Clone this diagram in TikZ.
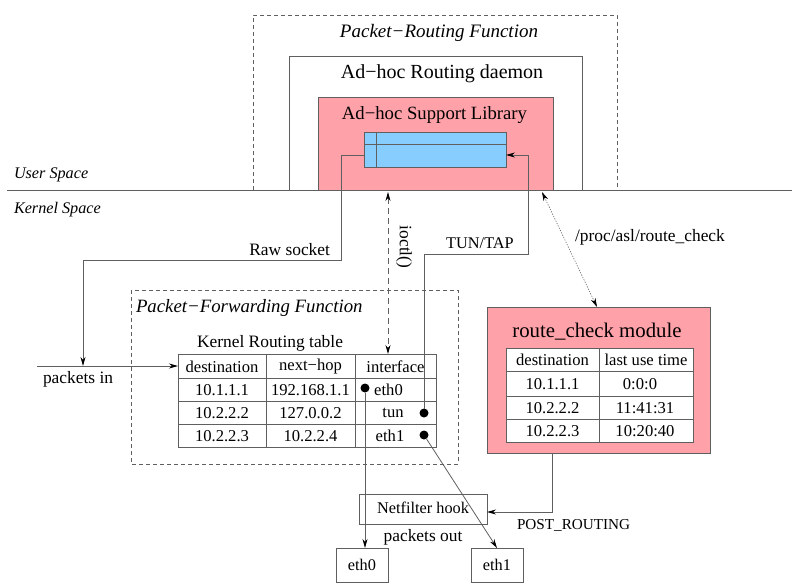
\documentclass[tikz,border=0pt]{standalone}
\usepackage{fontspec}
\setmainfont{Liberation Serif}
\usetikzlibrary{arrows.meta}
\definecolor{linegray}{RGB}{95,95,95}
\definecolor{aslpink}{RGB}{255,161,168}
\definecolor{aslblue}{RGB}{135,206,255}
\newcommand\setfs[1]{\fontsize{#1}{#1}\selectfont}

\begin{document}
\begin{tikzpicture}[x=1pt,y=-1pt,
  every node/.style={inner sep=0pt, outer sep=0pt},
  wire/.style={draw=linegray, line width=0.8pt},
  arr/.style={-{Stealth[length=9pt,width=5pt,black]}},
  twoway/.style={{Stealth[length=9pt,width=5pt,black]}-{Stealth[length=9pt,width=5pt,black]}},
  frame/.style={draw=linegray, line width=0.8pt, dash pattern=on 4pt off 3pt},
  box/.style={draw=linegray, line width=0.8pt, anchor=north west},
  dot/.style={circle, fill=black, minimum size=9pt},
  big/.style={font=\setfs{19.5}},
  label/.style={font=\setfs{17.4}},
  small/.style={font=\setfs{16.3}},
  cell/.style={font=\setfs{16.6}},
  space/.style={font=\setfs{16.2}\itshape, anchor=west},
]
\useasboundingbox (0,0) rectangle (792,583);

% ---------------- user space ----------------
\draw[frame] (253,190) -- (253,15) -- (617,15) -- (617,190);
\node[big, font=\setfs{19}\itshape] (prf) at (439,33) {Packet−Routing Function};

\draw[wire] (289,190) -- (289,56) -- (582,56) -- (582,190);
\node[big, font=\setfs{20}] (ard) at (442,73.5) {Ad−hoc Routing daemon};

\fill[aslpink] (318,97) rectangle (553,190);
\draw[wire] (318,190) -- (318,97) -- (553,97) -- (553,190);
\node[big, font=\setfs{18.7}] (asl) at (434.5,115.5) {Ad−hoc Support Library};

\node[box, fill=aslblue, minimum width=142pt, minimum height=35pt] (blue) at (364,132) {};
\draw[wire] (376,132) -- (376,167);
\draw[wire] (364,144) -- (506,144);

% user / kernel boundary
\coordinate (sepL) at (7,190);
\coordinate (sepR) at (792,190);
\draw[wire] (sepL) -- (sepR);
\node[space] (us) at (14,174.5) {User Space};
\node[space] (ks) at (14,209.5) {Kernel Space};

% ---------------- packet forwarding ----------------
\draw[frame] (131,290) rectangle (458,464);
\node[font=\setfs{18.8}\itshape, anchor=west] (pff) at (136,307.5) {Packet−Forwarding Function};
\node[label] (krt) at (270,343.5) {Kernel Routing table};

\node[box, minimum width=258pt, minimum height=93pt] (ktab) at (178,354) {};
\draw[wire] (266,354) -- (266,447);
\draw[wire] (355,354) -- (355,447);
\draw[wire] (178,378) -- (436,378);
\draw[wire] (178,401) -- (436,401);
\draw[wire] (178,424) -- (436,424);

\node[cell] (k11) at (222,366.5) {destination};
\node[cell] (k12) at (310.5,366.5) {next−hop};
\node[cell] (k13) at (395.5,366.5) {interface};
\node[cell] (k21) at (222,390) {10.1.1.1};
\node[cell] (k22) at (310.5,390) {192.168.1.1};
\node[cell] (k23) at (388.5,390) {eth0};
\node[cell] (k31) at (222,413) {10.2.2.2};
\node[cell] (k32) at (310.5,413) {127.0.0.2};
\node[cell] (k33) at (393,413) {tun};
\node[cell] (k41) at (222,436) {10.2.2.3};
\node[cell] (k42) at (310.5,436) {10.2.2.4};
\node[cell] (k43) at (390,436) {eth1};

\node[dot] (d0) at (365,388) {};
\node[dot] (d1) at (424,413) {};
\node[dot] (d2) at (424,435) {};

% ---------------- route_check module ----------------
\node[box, fill=aslpink, minimum width=223pt, minimum height=146pt] (rc) at (487,307) {};
\node[font=\setfs{20.8}] (rct) at (597,331.5) {route\_check module};
\node[box, fill=white, minimum width=187pt, minimum height=94pt] (rtab) at (506,348) {};
\draw[wire] (599,348) -- (599,442);
\draw[wire] (506,371) -- (693,371);
\draw[wire] (506,396) -- (693,396);
\draw[wire] (506,419) -- (693,419);
\node[cell] (r11) at (552.5,360) {destination};
\node[cell] (r12) at (646,360) {last use time};
\node[cell] (r21) at (552.5,384) {10.1.1.1};
\node[cell] (r22) at (640,384) {0:0:0};
\node[cell] (r31) at (552.5,408) {10.2.2.2};
\node[cell] (r32) at (645,408) {11:41:31};
\node[cell] (r41) at (552.5,431) {10.2.2.3};
\node[cell] (r42) at (645,431) {10:20:40};

% ---------------- output side ----------------
\node[box, minimum width=128pt, minimum height=30pt] (nf) at (359,494) {};
\node[small] (nft) at (423,507.5) {Netfilter hook};
\node[label] (pout) at (423,537.5) {packets out};
\node[box, minimum width=52pt, minimum height=34pt] (e0) at (336,548) {};
\node[small] at ([yshift=0.5pt]e0.center) {eth0};
\node[box, minimum width=52pt, minimum height=34pt] (e1) at (471,548) {};
\node[small] at ([yshift=0.5pt]e1.center) {eth1};

% ---------------- connectors ----------------
% raw socket: library -> packets-in path
\coordinate (rawOut) at (364,155);
\coordinate (rawA) at (341,155);
\coordinate (rawB) at (341,260);
\coordinate (rawC) at (83,260);
\coordinate (rawD) at (83,366);
\draw[wire, arr] (rawOut) -- (rawA) -- (rawB) -- (rawC) -- (rawD);
\node[label, anchor=east] (raw) at (330,249.5) {Raw socket};

% packets in
\coordinate (pin) at (37,366);
\draw[wire, arr] (pin) -- (ktab.west |- pin);
\node[label, anchor=west] (pint) at (43,379.5) {packets in};

% ioctl
\coordinate (ioTop) at (388,192);
\draw[wire, twoway, dash pattern=on 6pt off 4pt] (ioTop) -- (ioTop |- ktab.north);
\node[label, rotate=-90] (ioctl) at (404,247) {ioctl()};

% TUN/TAP
\coordinate (tunA) at (424,254);
\coordinate (tunB) at (528,254);
\coordinate (tunIn) at (506,155);
\draw[wire, arr] (d1) -- (tunA) -- (tunB) -- (tunB |- tunIn) -- (tunIn);
\node[small] (tuntap) at (480,243.5) {TUN/TAP};

% /proc interface
\coordinate (procTop) at (542,192);
\draw[draw=linegray, line width=0.6pt, dash pattern=on 1.2pt off 1.4pt, twoway] (procTop) -- (597,307);
\node[label] (proc) at (650,237.5) {/proc/asl/route\_check};

% outgoing packets
\draw[wire, arr] (d0) -- (d0 |- e0.north);
\draw[wire, arr] (d2) -- (e1.north);

% POST_ROUTING hook
\coordinate (prA) at (552,453);
\coordinate (prB) at (552,512);
\draw[wire, arr] (prA) -- (prB) -- (nf.east |- prB);
\node[font=\setfs{15.2}, anchor=west] (post) at (517,525.5) {POST\_ROUTING};
\end{tikzpicture}
\end{document}
